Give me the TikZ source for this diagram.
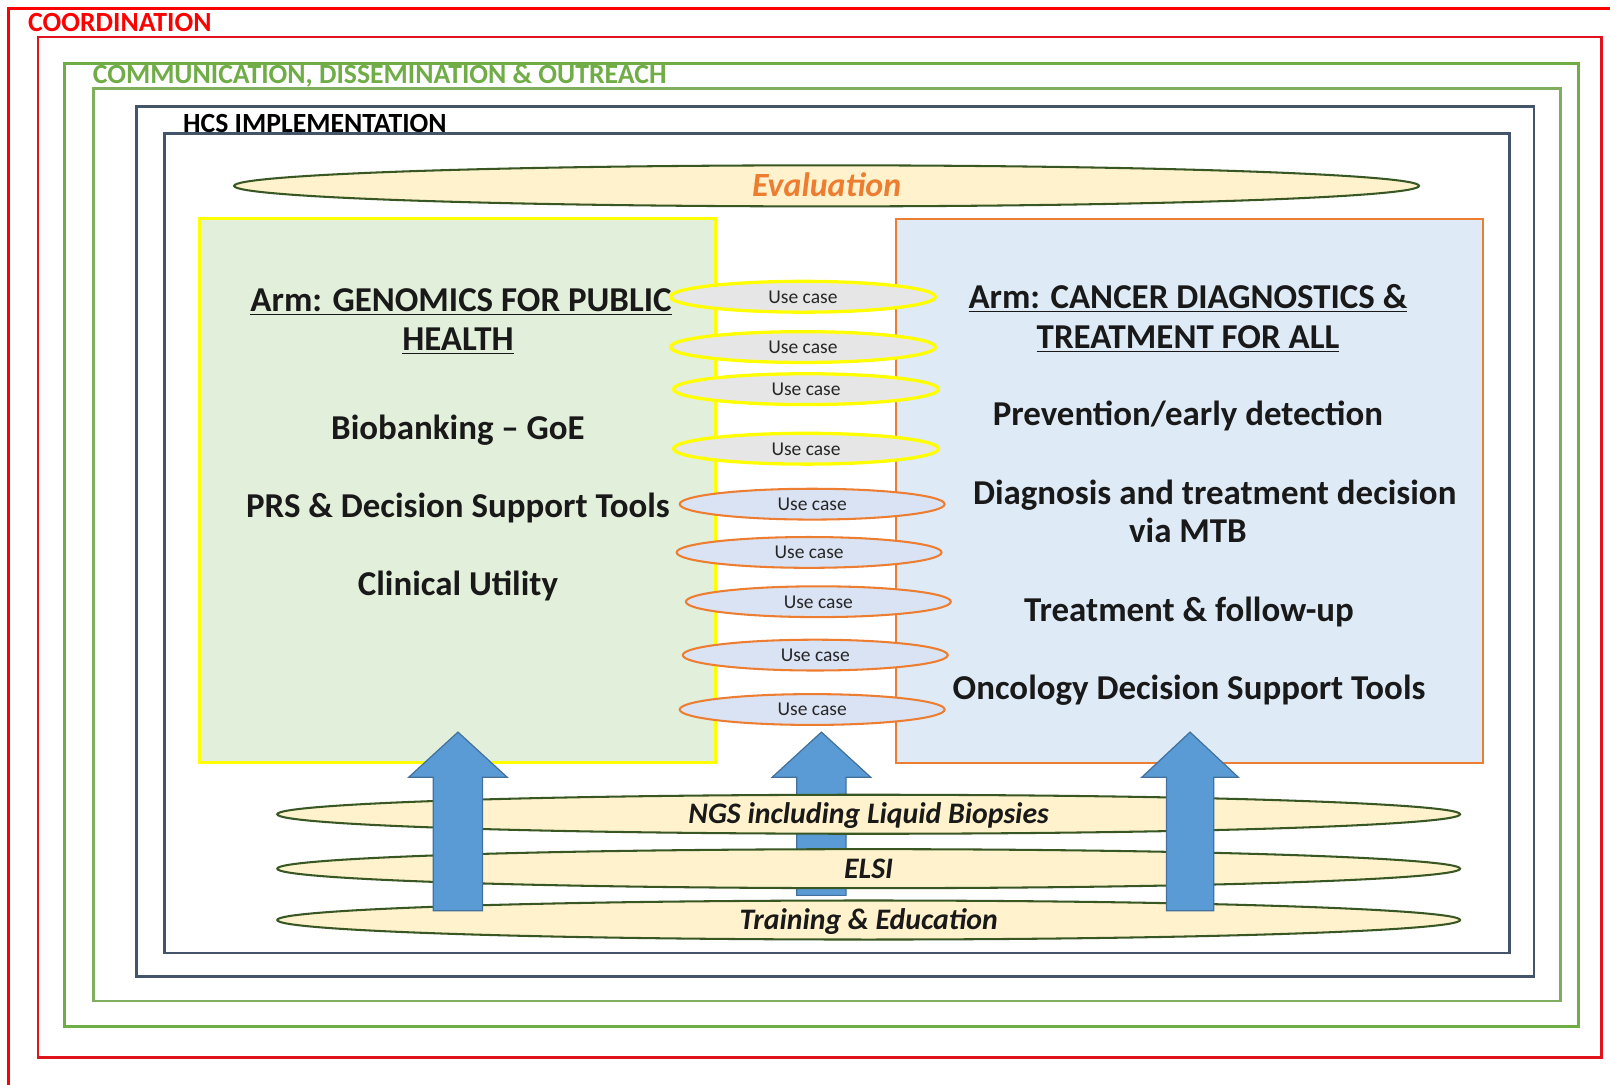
\documentclass[tikz,border=0pt]{standalone}
\usepackage{fontspec}
\setmainfont{Carlito}
\usetikzlibrary{shapes.geometric}
\definecolor{cRed}{HTML}{FF0000}
\definecolor{cRedIn}{HTML}{E0141C}
\definecolor{cGreen}{HTML}{70AD47}
\definecolor{cGreenIn}{HTML}{7FAE5F}
\definecolor{cNavy}{HTML}{44546A}
\definecolor{cOrange}{HTML}{ED7D31}
\definecolor{cLightGreen}{HTML}{E2EFDA}
\definecolor{cLightBlue}{HTML}{DEEBF7}
\definecolor{cCream}{HTML}{FFF2CC}
\definecolor{cDarkGreen}{HTML}{385723}
\definecolor{cYellow}{HTML}{FFFF00}
\definecolor{cGrey}{HTML}{E7E6E6}
\definecolor{cUseBlue}{HTML}{DAE3F3}
\definecolor{cArrow}{HTML}{5B9BD5}
\definecolor{cArrowLine}{HTML}{41719C}
\begin{document}
\begin{tikzpicture}[x=0.5pt,y=-0.5pt,
  frame/.style={line width=1.3pt},
  framelabel/.style={anchor=base west, font=\bfseries\fontsize{13.5}{15}\selectfont, inner sep=0pt},
  armtext/.style={anchor=base, font=\bfseries\fontsize{17}{19}\selectfont, inner sep=0pt, text=black!90},
  usecase/.style={ellipse, minimum width=129pt, minimum height=15pt, inner sep=0pt,
    font=\fontsize{9.5}{11}\selectfont, text=black!85, text height=6.2pt, text depth=0pt},
  usecaseY/.style={usecase, draw=cYellow, line width=1.6pt, fill=cGrey},
  usecaseO/.style={usecase, draw=cOrange, line width=1pt, fill=cUseBlue},
  layer/.style={ellipse, draw=cDarkGreen, line width=1pt, fill=cCream, minimum width=576pt,
    minimum height=19pt, inner sep=0pt, text height=9.3pt, text depth=0pt,
    font=\bfseries\itshape\fontsize{14.5}{16}\selectfont, text=black!90},
  blockarrow/.style={fill=cArrow, draw=cArrowLine, line width=0.6pt}]

\useasboundingbox (0,0) rectangle (1568,1056);
\fill[white] (0,0) rectangle (1568,1056);

% nested frames
\draw[frame, cRed] (8,1060) -- (8,8) -- (1572,8);
\draw[frame, cRedIn] (37,36) rectangle (1560,1030);
\draw[frame, cGreen] (63,62) rectangle (1537,1000);
\draw[frame, cGreenIn] (91,86) rectangle (1520,975);
\draw[frame, cNavy] (133,104) rectangle (1494,951);
\draw[frame, cNavy] (160,130) rectangle (1470,928);

\node[framelabel, text=cRed] (coord) at (27,31) {COORDINATION};
\node[framelabel, text=cGreen] (comm) at (90,81) {COMMUNICATION, DISSEMINATION \& OUTREACH};
\node[framelabel, text=black] (hcs) at (178,129) {HCS IMPLEMENTATION};

% evaluation
\node[ellipse, draw=cDarkGreen, line width=1pt, fill=cCream, minimum width=577pt, minimum height=20pt,
  inner sep=0pt, text height=10.6pt, text depth=0pt, text=cOrange,
  font=\bfseries\itshape\fontsize{16.5}{18}\selectfont] (eval) at (805,181) {Evaluation};

% arms
\draw[fill=cLightGreen, draw=cYellow, line width=1.5pt] (194,213) rectangle (697,743);
\draw[fill=cLightBlue, draw=cOrange, line width=1pt] (873,213) rectangle (1444,743);

\node[armtext] (gphA) at (449,303) {\underline{Arm: GENOMICS FOR PUBLIC}};
\node[armtext] (gphB) at (446,341) {\underline{HEALTH}};
\node[armtext] (bio) at (446,428) {Biobanking – GoE};
\node[armtext] (prs) at (446,504) {PRS \& Decision Support Tools};
\node[armtext] (cu) at (446,580) {Clinical Utility};

\node[armtext] (cdtA) at (1157,300) {\underline{Arm: CANCER DIAGNOSTICS \&}};
\node[armtext] (cdtB) at (1157,339) {\underline{TREATMENT FOR ALL}};
\node[armtext] (prev) at (1157,414) {Prevention/early detection};
\node[armtext] (diagA) at (1183,491) {Diagnosis and treatment decision};
\node[armtext] (diagB) at (1157,528) {via MTB};
\node[armtext] (treat) at (1158,605) {Treatment \& follow-up};
\node[armtext] (onc) at (1158,681) {Oncology Decision Support Tools};

% use cases
\node[usecaseY] (u1) at (782,289) {Use case};
\node[usecaseY] (u2) at (782,338) {Use case};
\node[usecaseY] (u3) at (785,379) {Use case};
\node[usecaseY] (u4) at (785,437) {Use case};
\node[usecaseO] (u5) at (791,491) {Use case};
\node[usecaseO] (u6) at (788,538) {Use case};
\node[usecaseO] (u7) at (797,586) {Use case};
\node[usecaseO] (u8) at (794,638) {Use case};
\node[usecaseO] (u9) at (791,691) {Use case};

% middle arrow (behind the layers)
\draw[blockarrow] (776,872) -- (776,757) -- (752,757) -- (800,713) -- (848,757) -- (824,757) -- (824,872) -- cycle;

% cross-cutting layers
\node[layer] (ngs) at (846,793) {NGS including Liquid Biopsies};
\node[layer] (elsi) at (846,846) {ELSI};
\node[layer] (train) at (846,896) {Training \& Education};

% side arrows (in front)
\draw[blockarrow] (422,887) -- (422,757) -- (398,757) -- (446,713) -- (494,757) -- (470,757) -- (470,887) -- cycle;
\draw[blockarrow] (1136,887) -- (1136,757) -- (1112,757) -- (1159,713) -- (1206,757) -- (1182,757) -- (1182,887) -- cycle;
\end{tikzpicture}
\end{document}
